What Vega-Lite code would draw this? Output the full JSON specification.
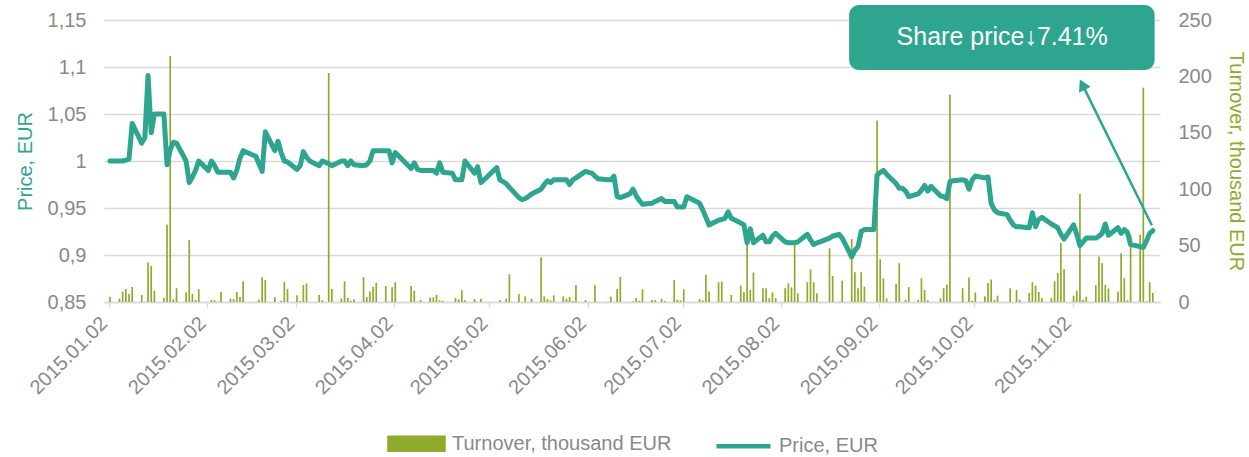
{
"$schema": "https://vega.github.io/schema/vega-lite/v6.json",
"width": 1056, "height": 282,
"autosize": {"type": "none"},
"padding": {"left": 104, "top": 20, "right": 89, "bottom": 155},
"background": "white",
"config": {
  "font": "Liberation Sans",
  "view": {"stroke": null},
  "axis": {"labelFont": "Liberation Sans", "labelFontSize": 20, "labelColor": "#898989", "titleFont": "Liberation Sans", "titleFontSize": 20, "titleFontWeight": "normal"},
  "legend": {"labelFont": "Liberation Sans", "labelFontSize": 20, "labelColor": "#898989", "layout": {"bottom": {"anchor": "middle"}}}
},
"datasets": {"s": [
{"d":"2015-01-02","p":1.000,"t":4.7},{"d":"2015-01-05","p":1.000,"t":3},{"d":"2015-01-06","p":1.000,"t":9.2},{"d":"2015-01-07","p":1.001,"t":11.6},{"d":"2015-01-08","p":1.002,"t":7.1},{"d":"2015-01-09","p":1.040,"t":13.3},
{"d":"2015-01-12","p":1.019,"t":6.2},{"d":"2015-01-13","p":1.025,"t":0.3},{"d":"2015-01-14","p":1.091,"t":35},{"d":"2015-01-15","p":1.030,"t":32},{"d":"2015-01-16","p":1.050,"t":10},
{"d":"2015-01-19","p":1.050,"t":3.6},{"d":"2015-01-20","p":0.996,"t":68.5},{"d":"2015-01-21","p":1.012,"t":218},{"d":"2015-01-22","p":1.020,"t":2.4},{"d":"2015-01-23","p":1.019,"t":12.2},
{"d":"2015-01-26","p":1.000,"t":8.6},{"d":"2015-01-27","p":0.977,"t":55},{"d":"2015-01-28","p":0.983,"t":7.1},{"d":"2015-01-29","p":0.990,"t":1.8},{"d":"2015-01-30","p":1.000,"t":11.3},
{"d":"2015-02-02","p":0.990,"t":0},{"d":"2015-02-03","p":1.000,"t":1.8},{"d":"2015-02-04","p":0.995,"t":1.5},{"d":"2015-02-05","p":0.988,"t":0.3},{"d":"2015-02-06","p":0.988,"t":8.9},
{"d":"2015-02-09","p":0.988,"t":3},{"d":"2015-02-10","p":0.982,"t":2.7},{"d":"2015-02-11","p":0.990,"t":8.9},{"d":"2015-02-12","p":1.003,"t":4.4},{"d":"2015-02-13","p":1.011,"t":18.4},
{"d":"2015-02-17","p":1.005,"t":0.3},{"d":"2015-02-18","p":0.997,"t":2},{"d":"2015-02-19","p":0.989,"t":22},{"d":"2015-02-20","p":1.031,"t":19.6},
{"d":"2015-02-23","p":1.011,"t":4.4},{"d":"2015-02-24","p":1.021,"t":0},{"d":"2015-02-25","p":1.009,"t":0.9},{"d":"2015-02-26","p":1.000,"t":17.8},{"d":"2015-02-27","p":0.999,"t":11.6},
{"d":"2015-03-02","p":0.991,"t":5.9},{"d":"2015-03-03","p":0.995,"t":0.9},{"d":"2015-03-04","p":1.010,"t":15},{"d":"2015-03-05","p":1.004,"t":16.3},{"d":"2015-03-06","p":1.000,"t":0},
{"d":"2015-03-09","p":0.995,"t":6.2},{"d":"2015-03-10","p":1.000,"t":1.5},{"d":"2015-03-12","p":0.997,"t":203},{"d":"2015-03-13","p":0.995,"t":11.6},
{"d":"2015-03-16","p":1.000,"t":3},{"d":"2015-03-17","p":1.000,"t":18.4},{"d":"2015-03-18","p":0.995,"t":3.6},{"d":"2015-03-19","p":1.000,"t":0.9},{"d":"2015-03-20","p":0.996,"t":2.4},
{"d":"2015-03-23","p":0.995,"t":22},{"d":"2015-03-24","p":0.996,"t":4.4},{"d":"2015-03-25","p":1.000,"t":9.2},{"d":"2015-03-26","p":1.011,"t":13.3},{"d":"2015-03-27","p":1.011,"t":17},
{"d":"2015-03-30","p":1.011,"t":14.2},{"d":"2015-03-31","p":1.011,"t":0.3},{"d":"2015-04-01","p":0.998,"t":13},{"d":"2015-04-02","p":1.009,"t":17.5},
{"d":"2015-04-07","p":0.992,"t":14.2},{"d":"2015-04-08","p":0.998,"t":10},{"d":"2015-04-09","p":0.991,"t":0.3},{"d":"2015-04-10","p":0.990,"t":1.8},
{"d":"2015-04-13","p":0.990,"t":3.9},{"d":"2015-04-14","p":0.990,"t":4.2},{"d":"2015-04-15","p":0.987,"t":6.2},{"d":"2015-04-16","p":0.998,"t":1.5},{"d":"2015-04-17","p":0.988,"t":0.9},
{"d":"2015-04-20","p":0.987,"t":0},{"d":"2015-04-21","p":0.980,"t":3.6},{"d":"2015-04-22","p":0.980,"t":2.4},{"d":"2015-04-23","p":0.980,"t":10.4},{"d":"2015-04-24","p":1.000,"t":1.5},
{"d":"2015-04-27","p":0.987,"t":2.7},{"d":"2015-04-28","p":0.994,"t":0.3},{"d":"2015-04-29","p":0.977,"t":2.7},{"d":"2015-04-30","p":0.980,"t":0},
{"d":"2015-05-04","p":0.993,"t":0},{"d":"2015-05-05","p":0.980,"t":1.5},{"d":"2015-05-06","p":0.978,"t":0},{"d":"2015-05-07","p":0.976,"t":3},{"d":"2015-05-08","p":0.972,"t":24.6},
{"d":"2015-05-11","p":0.961,"t":7.1},{"d":"2015-05-12","p":0.959,"t":0},{"d":"2015-05-13","p":0.960,"t":5},{"d":"2015-05-14","p":0.962,"t":0},{"d":"2015-05-15","p":0.965,"t":2.7},
{"d":"2015-05-18","p":0.970,"t":39.7},{"d":"2015-05-19","p":0.975,"t":5},{"d":"2015-05-20","p":0.979,"t":2.7},{"d":"2015-05-21","p":0.977,"t":1.5},{"d":"2015-05-22","p":0.980,"t":5.9},
{"d":"2015-05-25","p":0.980,"t":5},{"d":"2015-05-26","p":0.980,"t":3},{"d":"2015-05-27","p":0.975,"t":4.4},{"d":"2015-05-28","p":0.980,"t":0.9},{"d":"2015-05-29","p":0.982,"t":15.1},
{"d":"2015-06-01","p":0.989,"t":1.8},{"d":"2015-06-02","p":0.988,"t":0},{"d":"2015-06-03","p":0.987,"t":0},{"d":"2015-06-04","p":0.984,"t":14.8},{"d":"2015-06-05","p":0.981,"t":0.3},
{"d":"2015-06-08","p":0.980,"t":0.3},{"d":"2015-06-09","p":0.980,"t":4.7},{"d":"2015-06-10","p":0.984,"t":0},{"d":"2015-06-11","p":0.962,"t":11.6},{"d":"2015-06-12","p":0.961,"t":22.2},
{"d":"2015-06-15","p":0.965,"t":0},{"d":"2015-06-16","p":0.970,"t":0.6},{"d":"2015-06-17","p":0.963,"t":3.6},{"d":"2015-06-18","p":0.958,"t":1.2},{"d":"2015-06-19","p":0.954,"t":11.3},
{"d":"2015-06-22","p":0.955,"t":1.8},{"d":"2015-06-23","p":0.957,"t":1.5},{"d":"2015-06-25","p":0.960,"t":2.7},{"d":"2015-06-26","p":0.957,"t":0.9},
{"d":"2015-06-29","p":0.957,"t":19.6},{"d":"2015-06-30","p":0.951,"t":2},{"d":"2015-07-01","p":0.951,"t":1.5},{"d":"2015-07-02","p":0.951,"t":11.3},{"d":"2015-07-03","p":0.962,"t":0},
{"d":"2015-07-07","p":0.955,"t":2.6},{"d":"2015-07-08","p":0.948,"t":1.3},{"d":"2015-07-09","p":0.940,"t":24.1},{"d":"2015-07-10","p":0.932,"t":9.3},
{"d":"2015-07-13","p":0.937,"t":17.5},{"d":"2015-07-14","p":0.938,"t":18.1},{"d":"2015-07-15","p":0.939,"t":0},{"d":"2015-07-16","p":0.946,"t":0},{"d":"2015-07-17","p":0.939,"t":6.2},
{"d":"2015-07-20","p":0.934,"t":14.5},{"d":"2015-07-21","p":0.932,"t":8.6},{"d":"2015-07-22","p":0.913,"t":52.2},{"d":"2015-07-23","p":0.928,"t":10.7},{"d":"2015-07-24","p":0.913,"t":26.1},
{"d":"2015-07-27","p":0.921,"t":12.2},{"d":"2015-07-28","p":0.914,"t":12.2},{"d":"2015-07-29","p":0.914,"t":3.3},{"d":"2015-07-30","p":0.920,"t":8.6},{"d":"2015-07-31","p":0.923,"t":3.3},
{"d":"2015-08-03","p":0.914,"t":12.2},{"d":"2015-08-04","p":0.913,"t":16.6},{"d":"2015-08-05","p":0.913,"t":13},{"d":"2015-08-06","p":0.913,"t":50.7},{"d":"2015-08-07","p":0.914,"t":7.7},
{"d":"2015-08-10","p":0.922,"t":17.5},{"d":"2015-08-11","p":0.916,"t":29},{"d":"2015-08-12","p":0.911,"t":17.5},{"d":"2015-08-13","p":0.913,"t":7.7},{"d":"2015-08-14","p":0.914,"t":0},
{"d":"2015-08-17","p":0.918,"t":47.7},{"d":"2015-08-18","p":0.920,"t":23.1},{"d":"2015-08-19","p":0.921,"t":0.3},{"d":"2015-08-20","p":0.922,"t":0.3},{"d":"2015-08-21","p":0.918,"t":18.9},
{"d":"2015-08-24","p":0.898,"t":55.8},{"d":"2015-08-25","p":0.905,"t":26.4},{"d":"2015-08-26","p":0.909,"t":12.2},{"d":"2015-08-27","p":0.925,"t":26.4},{"d":"2015-08-28","p":0.927,"t":13.6},
{"d":"2015-08-31","p":0.927,"t":0},{"d":"2015-09-01","p":0.985,"t":161},{"d":"2015-09-02","p":0.988,"t":38},{"d":"2015-09-03","p":0.990,"t":21},{"d":"2015-09-04","p":0.986,"t":3.3},
{"d":"2015-09-07","p":0.976,"t":16},{"d":"2015-09-08","p":0.971,"t":34.4},{"d":"2015-09-09","p":0.971,"t":0},{"d":"2015-09-10","p":0.968,"t":2},{"d":"2015-09-11","p":0.962,"t":13.3},
{"d":"2015-09-14","p":0.965,"t":2},{"d":"2015-09-15","p":0.969,"t":21},{"d":"2015-09-16","p":0.974,"t":10.7},{"d":"2015-09-17","p":0.968,"t":1.4},{"d":"2015-09-18","p":0.973,"t":0},
{"d":"2015-09-21","p":0.963,"t":3.3},{"d":"2015-09-22","p":0.962,"t":12.2},{"d":"2015-09-23","p":0.960,"t":15.4},{"d":"2015-09-24","p":0.978,"t":184},{"d":"2015-09-25","p":0.979,"t":0},
{"d":"2015-09-28","p":0.980,"t":12.2},{"d":"2015-09-29","p":0.979,"t":0},{"d":"2015-09-30","p":0.970,"t":21.7},{"d":"2015-10-01","p":0.980,"t":1.1},{"d":"2015-10-02","p":0.984,"t":8.5},
{"d":"2015-10-05","p":0.982,"t":5},{"d":"2015-10-06","p":0.983,"t":16.9},{"d":"2015-10-07","p":0.955,"t":19.9},{"d":"2015-10-08","p":0.948,"t":2},{"d":"2015-10-09","p":0.945,"t":5.6},
{"d":"2015-10-12","p":0.943,"t":0},{"d":"2015-10-13","p":0.937,"t":12.2},{"d":"2015-10-14","p":0.932,"t":0},{"d":"2015-10-15","p":0.930,"t":10.7},{"d":"2015-10-16","p":0.930,"t":2},
{"d":"2015-10-19","p":0.929,"t":8},{"d":"2015-10-20","p":0.945,"t":17.5},{"d":"2015-10-21","p":0.930,"t":14.5},{"d":"2015-10-22","p":0.938,"t":8.9},{"d":"2015-10-23","p":0.940,"t":3.6},
{"d":"2015-10-26","p":0.933,"t":3.6},{"d":"2015-10-27","p":0.931,"t":18.4},{"d":"2015-10-28","p":0.929,"t":25.8},{"d":"2015-10-29","p":0.922,"t":52.4},{"d":"2015-10-30","p":0.917,"t":29.3},
{"d":"2015-11-02","p":0.932,"t":5.6},{"d":"2015-11-03","p":0.922,"t":10.1},{"d":"2015-11-04","p":0.910,"t":95.8},{"d":"2015-11-05","p":0.914,"t":2},{"d":"2015-11-06","p":0.918,"t":4.7},
{"d":"2015-11-09","p":0.918,"t":15},{"d":"2015-11-10","p":0.920,"t":40.3},{"d":"2015-11-11","p":0.923,"t":34.4},{"d":"2015-11-12","p":0.933,"t":15},{"d":"2015-11-13","p":0.921,"t":12},
{"d":"2015-11-16","p":0.929,"t":9},{"d":"2015-11-17","p":0.923,"t":43.3},{"d":"2015-11-18","p":0.927,"t":21},{"d":"2015-11-19","p":0.924,"t":1.5},{"d":"2015-11-20","p":0.911,"t":59.6},
{"d":"2015-11-23","p":0.909,"t":59.6},{"d":"2015-11-24","p":0.908,"t":190},{"d":"2015-11-25","p":0.915,"t":0.6},{"d":"2015-11-26","p":0.923,"t":17.5},{"d":"2015-11-27","p":0.926,"t":8}
]},
"layer": [
  {
    "data": {"name": "s"},
    "mark": {"type": "bar", "size": 1.7, "xOffset": 1},
    "encoding": {
      "x": {"field": "d", "type": "temporal",
        "scale": {"type": "utc", "domain": [{"year":2015,"month":1,"date":2,"utc":true},{"year":2015,"month":11,"date":28,"utc":true}]},
        "axis": {"title": null, "grid": false,
          "values": [{"year":2015,"month":1,"date":2,"utc":true},{"year":2015,"month":2,"date":2,"utc":true},{"year":2015,"month":3,"date":2,"utc":true},{"year":2015,"month":4,"date":2,"utc":true},{"year":2015,"month":5,"date":2,"utc":true},{"year":2015,"month":6,"date":2,"utc":true},{"year":2015,"month":7,"date":2,"utc":true},{"year":2015,"month":8,"date":2,"utc":true},{"year":2015,"month":9,"date":2,"utc":true},{"year":2015,"month":10,"date":2,"utc":true},{"year":2015,"month":11,"date":2,"utc":true}],
          "labelExpr": "utcFormat(datum.value, '%Y.%m.%d')",
          "labelAngle": -45, "labelAlign": "right", "labelBaseline": "middle", "labelPadding": 13, "labelOffset": -5,
          "domainColor": "#d9d9d9", "domainWidth": 1.5,
          "tickColor": "#d9d9d9", "tickWidth": 1.5, "tickSize": 5}},
      "y": {"field": "t", "type": "quantitative",
        "scale": {"domain": [0, 250]},
        "axis": {"orient": "right", "values": [0, 50, 100, 150, 200, 250], "grid": false, "domain": false, "ticks": false,
          "labelPadding": 18, "title": "Turnover, thousand EUR", "titleColor": "#8fab2b", "titlePadding": 14}},
      "color": {"datum": "Turnover, thousand EUR", "type": "nominal",
        "scale": {"domain": ["Turnover, thousand EUR", "Price, EUR"], "range": ["#8fab2b", "#2ea68f"]},
        "legend": {"orient": "bottom", "direction": "horizontal", "title": null, "offset": 16,
          "symbolSize": 2916, "columnPadding": 35, "labelOffset": 6, "labelLimit": 400,
          "encode": {"symbols": {"update": {
            "shape": {"signal": "datum.value === 'Price, EUR' ? 'M-1,0H1' : 'M-1,-0.22H1V0.22H-1Z'"},
            "fill": {"signal": "datum.value === 'Price, EUR' ? 'transparent' : '#8fab2b'"},
            "stroke": {"signal": "datum.value === 'Price, EUR' ? '#2ea68f' : 'transparent'"},
            "strokeWidth": {"value": 4.5},
            "opacity": {"value": 1}}}}}}
    }
  },
  {
    "layer": [
      {
        "data": {"name": "s"},
        "mark": {"type": "line", "strokeWidth": 5, "strokeJoin": "round", "strokeCap": "round", "xOffset": 1},
        "encoding": {
          "x": {"field": "d", "type": "temporal",
            "scale": {"type": "utc", "domain": [{"year":2015,"month":1,"date":2,"utc":true},{"year":2015,"month":11,"date":28,"utc":true}]}},
          "y": {"field": "p", "type": "quantitative",
            "scale": {"domain": [0.85, 1.15], "nice": false, "zero": false},
            "axis": {"orient": "left", "values": [0.85, 0.9, 0.95, 1, 1.05, 1.1, 1.15],
              "labelExpr": "replace(format(datum.value, '.2~f'), '.', ',')",
              "grid": true, "gridColor": "#d9d9d9", "gridWidth": 1.5,
              "domain": false, "ticks": false, "labelPadding": 18,
              "title": "Price, EUR", "titleColor": "#2ea68f", "titlePadding": 12}},
          "color": {"datum": "Price, EUR", "type": "nominal"}
        }
      },
      {
        "data": {"values": [{}]},
        "mark": {"type": "rect", "cornerRadius": 10, "color": "#2ea68f"},
        "encoding": {
          "x": {"datum": {"year":2015,"month":8,"date":23,"hours":12,"utc":true}, "type": "temporal"},
          "x2": {"datum": {"year":2015,"month":11,"date":27,"hours":21,"utc":true}},
          "y": {"datum": 1.166, "type": "quantitative", "scale": {"domain": [0.85, 1.15], "nice": false, "zero": false}},
          "y2": {"datum": 1.0968}
        }
      },
      {
        "data": {"values": [{}]},
        "mark": {"type": "text", "fontSize": 25, "color": "white", "font": "Liberation Sans", "align": "center", "baseline": "middle"},
        "encoding": {
          "x": {"datum": {"year":2015,"month":10,"date":10,"hours":19,"utc":true}, "type": "temporal"},
          "y": {"datum": 1.1322, "type": "quantitative", "scale": {"domain": [0.85, 1.15], "nice": false, "zero": false}},
          "text": {"value": "Share price↓7.41%"}
        }
      },
      {
        "data": {"values": [{}]},
        "mark": {"type": "rule", "color": "#2ea68f", "strokeWidth": 2.5},
        "encoding": {
          "x": {"datum": {"year":2015,"month":11,"date":27,"utc":true}, "type": "temporal"},
          "y": {"datum": 0.9317, "type": "quantitative", "scale": {"domain": [0.85, 1.15], "nice": false, "zero": false}},
          "x2": {"datum": {"year":2015,"month":11,"date":5,"hours":2,"utc":true}},
          "y2": {"datum": 1.0812}
        }
      },
      {
        "data": {"values": [{}]},
        "mark": {"type": "point", "shape": "triangle-up", "filled": true, "size": 170, "angle": 333.4, "color": "#2ea68f", "opacity": 1},
        "encoding": {
          "x": {"datum": {"year":2015,"month":11,"date":5,"hours":2,"utc":true}, "type": "temporal"},
          "y": {"datum": 1.0812, "type": "quantitative", "scale": {"domain": [0.85, 1.15], "nice": false, "zero": false}}
        }
      }
    ]
  }
],
"resolve": {"scale": {"y": "independent"}}
}
